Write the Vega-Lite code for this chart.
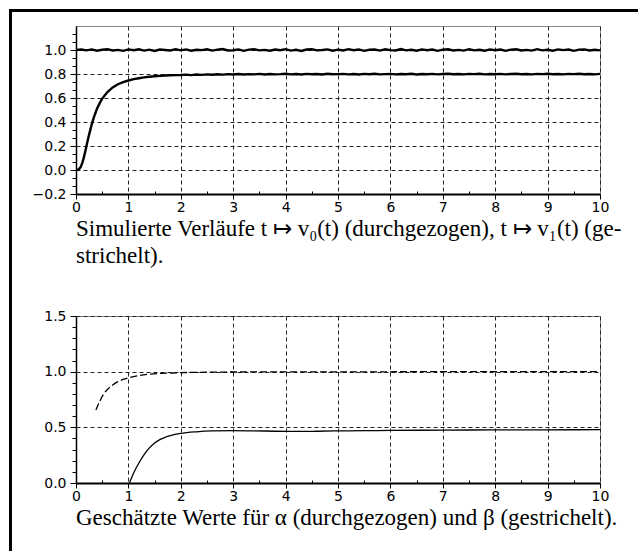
{
  "$schema": "https://vega.github.io/schema/vega-lite/v6.json",
  "padding": {"left": 9, "top": 9, "right": 0, "bottom": 0},
  "background": "white",
  "bounds": "flush",
  "spacing": 0,
  "config": {
    "axis": {"labelFont": "DejaVu Sans", "labelFontSize": 14, "labelColor": "black", "tickColor": "black", "domainColor": "black", "gridColor": "#222", "gridDash": [4, 3], "gridWidth": 1, "title": null, "labelFlush": false, "labelOverlap": false},
    "title": {"font": "Liberation Serif", "fontSize": 23, "fontWeight": "normal", "color": "black", "orient": "bottom", "anchor": "start", "frame": "group", "align": "left", "lineHeight": 27}
  },
  "vconcat": [
    {"width": 628, "height": 1, "data": {"values": [{}]}, "mark": {"type": "point", "size": 0, "opacity": 0}, "view": {"stroke": "black", "strokeWidth": 2, "fill": "black"}},
    {
      "bounds": "flush",
      "spacing": 65,
      "hconcat": [
        {"width": 1, "height": 539, "data": {"values": [{}]}, "mark": {"type": "point", "size": 0, "opacity": 0}, "view": {"stroke": "black", "strokeWidth": 2, "fill": "black"}},
        {
          "bounds": "flush",
          "spacing": 305,
          "vconcat": [
            {
              "bounds": "flush",
              "spacing": 14,
              "vconcat": [
                {"width": 524, "height": 1, "data": {"values": [{}]}, "mark": {"type": "point", "size": 0, "opacity": 0}, "view": {"stroke": null}},
                {
                  "width": 524, "height": 168,
                  "view": {"stroke": "#888", "strokeWidth": 1},
                  "title": {"text": ["Simulierte Verläufe t ↦ v₀(t) (durchgezogen), t ↦ v₁(t) (ge-", "strichelt)."], "offset": 4},
                  "resolve": {"axis": {"x": "independent", "y": "independent"}},
                  "layer": [
                    {
                      "data": {"values": [
                        {"t":0,"v":1.000},{"t":0.1,"v":1.004},{"t":0.2,"v":0.997},{"t":0.3,"v":1.005},{"t":0.4,"v":0.994},{"t":0.5,"v":1.002},{"t":0.6,"v":1.007},{"t":0.7,"v":0.996},{"t":0.8,"v":1.001},{"t":0.9,"v":0.993},
                        {"t":1.0,"v":1.005},{"t":1.1,"v":0.998},{"t":1.2,"v":1.006},{"t":1.3,"v":0.995},{"t":1.4,"v":1.003},{"t":1.5,"v":0.992},{"t":1.6,"v":1.004},{"t":1.7,"v":1.000},{"t":1.8,"v":0.996},{"t":1.9,"v":1.007},
                        {"t":2.0,"v":0.997},{"t":2.1,"v":1.005},{"t":2.2,"v":0.994},{"t":2.3,"v":1.002},{"t":2.4,"v":0.999},{"t":2.5,"v":1.006},{"t":2.6,"v":0.995},{"t":2.7,"v":1.003},{"t":2.8,"v":1.008},{"t":2.9,"v":0.996},
                        {"t":3.0,"v":0.998},{"t":3.1,"v":1.005},{"t":3.2,"v":0.993},{"t":3.3,"v":1.003},{"t":3.4,"v":1.006},{"t":3.5,"v":0.997},{"t":3.6,"v":1.001},{"t":3.7,"v":0.994},{"t":3.8,"v":1.004},{"t":3.9,"v":0.998},
                        {"t":4.0,"v":1.007},{"t":4.1,"v":0.995},{"t":4.2,"v":1.002},{"t":4.3,"v":0.992},{"t":4.4,"v":1.004},{"t":4.5,"v":1.006},{"t":4.6,"v":0.997},{"t":4.7,"v":1.000},{"t":4.8,"v":1.005},{"t":4.9,"v":0.994},
                        {"t":5.0,"v":1.003},{"t":5.1,"v":0.996},{"t":5.2,"v":1.007},{"t":5.3,"v":0.998},{"t":5.4,"v":1.005},{"t":5.5,"v":0.993},{"t":5.6,"v":1.002},{"t":5.7,"v":1.004},{"t":5.8,"v":0.995},{"t":5.9,"v":1.006},
                        {"t":6.0,"v":0.999},{"t":6.1,"v":0.996},{"t":6.2,"v":1.008},{"t":6.3,"v":0.997},{"t":6.4,"v":1.002},{"t":6.5,"v":0.994},{"t":6.6,"v":1.005},{"t":6.7,"v":0.998},{"t":6.8,"v":1.004},{"t":6.9,"v":0.993},
                        {"t":7.0,"v":1.003},{"t":7.1,"v":1.006},{"t":7.2,"v":0.996},{"t":7.3,"v":1.001},{"t":7.4,"v":0.995},{"t":7.5,"v":1.007},{"t":7.6,"v":0.997},{"t":7.7,"v":1.002},{"t":7.8,"v":0.994},{"t":7.9,"v":1.005},
                        {"t":8.0,"v":0.998},{"t":8.1,"v":1.004},{"t":8.2,"v":0.993},{"t":8.3,"v":1.003},{"t":8.4,"v":1.006},{"t":8.5,"v":0.996},{"t":8.6,"v":1.001},{"t":8.7,"v":0.995},{"t":8.8,"v":1.007},{"t":8.9,"v":0.997},
                        {"t":9.0,"v":1.002},{"t":9.1,"v":0.994},{"t":9.2,"v":1.005},{"t":9.3,"v":0.999},{"t":9.4,"v":1.004},{"t":9.5,"v":0.993},{"t":9.6,"v":1.003},{"t":9.7,"v":1.005},{"t":9.8,"v":0.996},{"t":9.9,"v":1.002},{"t":10.0,"v":0.997}
                      ]},
                      "mark": {"type": "line", "color": "black", "strokeWidth": 2.4, "clip": true},
                      "encoding": {
                        "x": {"field": "t", "type": "quantitative", "scale": {"domain": [0, 10], "nice": false, "zero": false},
                              "axis": {"orient": "bottom", "values": [0,1,2,3,4,5,6,7,8,9,10], "format": "d", "tickSize": 5, "tickWidth": 1, "domainWidth": 2, "grid": true, "labelPadding": 1}},
                        "y": {"field": "v", "type": "quantitative", "scale": {"domain": [-0.2, 1.2], "nice": false, "zero": false},
                              "axis": {"orient": "left", "values": [-0.2,0,0.2,0.4,0.6,0.8,1.0], "format": ".1f", "tickSize": 6, "tickWidth": 1, "domainWidth": 1.5, "grid": true, "labelPadding": 4}}
                      }
                    },
                    {
                      "data": {"values": [
                        {"t":0,"v":0},{"t":0.03,"v":0.001},{"t":0.06,"v":0.008},{"t":0.09,"v":0.025},{"t":0.12,"v":0.06},{"t":0.15,"v":0.105},{"t":0.18,"v":0.16},{"t":0.21,"v":0.22},{"t":0.25,"v":0.295},{"t":0.3,"v":0.38},
                        {"t":0.35,"v":0.45},{"t":0.4,"v":0.51},{"t":0.45,"v":0.555},{"t":0.5,"v":0.595},{"t":0.6,"v":0.65},{"t":0.7,"v":0.688},{"t":0.8,"v":0.715},{"t":0.9,"v":0.733},{"t":1.0,"v":0.746},{"t":1.1,"v":0.757},
                        {"t":1.2,"v":0.765},{"t":1.3,"v":0.772},{"t":1.4,"v":0.777},{"t":1.5,"v":0.781},{"t":1.6,"v":0.784},{"t":1.7,"v":0.787},{"t":1.8,"v":0.789},{"t":1.9,"v":0.791},{"t":2.0,"v":0.792},
                        {"t":2.1,"v":0.795},{"t":2.2,"v":0.791},{"t":2.3,"v":0.796},{"t":2.4,"v":0.793},{"t":2.5,"v":0.797},{"t":2.6,"v":0.794},{"t":2.7,"v":0.798},{"t":2.8,"v":0.795},{"t":2.9,"v":0.799},{"t":3.0,"v":0.796},
                        {"t":3.1,"v":0.800},{"t":3.2,"v":0.796},{"t":3.3,"v":0.799},{"t":3.4,"v":0.797},{"t":3.5,"v":0.801},{"t":3.6,"v":0.796},{"t":3.7,"v":0.800},{"t":3.8,"v":0.797},{"t":3.9,"v":0.799},{"t":4.0,"v":0.802},
                        {"t":4.1,"v":0.797},{"t":4.2,"v":0.800},{"t":4.3,"v":0.796},{"t":4.4,"v":0.801},{"t":4.5,"v":0.798},{"t":4.6,"v":0.800},{"t":4.7,"v":0.796},{"t":4.8,"v":0.802},{"t":4.9,"v":0.798},{"t":5.0,"v":0.799},
                        {"t":5.1,"v":0.801},{"t":5.2,"v":0.797},{"t":5.3,"v":0.800},{"t":5.4,"v":0.796},{"t":5.5,"v":0.801},{"t":5.6,"v":0.798},{"t":5.7,"v":0.802},{"t":5.8,"v":0.797},{"t":5.9,"v":0.799},{"t":6.0,"v":0.801},
                        {"t":6.1,"v":0.797},{"t":6.2,"v":0.800},{"t":6.3,"v":0.798},{"t":6.4,"v":0.802},{"t":6.5,"v":0.796},{"t":6.6,"v":0.800},{"t":6.7,"v":0.798},{"t":6.8,"v":0.801},{"t":6.9,"v":0.797},{"t":7.0,"v":0.800},
                        {"t":7.1,"v":0.802},{"t":7.2,"v":0.798},{"t":7.3,"v":0.800},{"t":7.4,"v":0.797},{"t":7.5,"v":0.801},{"t":7.6,"v":0.799},{"t":7.7,"v":0.802},{"t":7.8,"v":0.797},{"t":7.9,"v":0.800},{"t":8.0,"v":0.798},
                        {"t":8.1,"v":0.801},{"t":8.2,"v":0.797},{"t":8.3,"v":0.800},{"t":8.4,"v":0.802},{"t":8.5,"v":0.798},{"t":8.6,"v":0.800},{"t":8.7,"v":0.797},{"t":8.8,"v":0.801},{"t":8.9,"v":0.799},{"t":9.0,"v":0.802},
                        {"t":9.1,"v":0.798},{"t":9.2,"v":0.800},{"t":9.3,"v":0.797},{"t":9.4,"v":0.801},{"t":9.5,"v":0.799},{"t":9.6,"v":0.802},{"t":9.7,"v":0.798},{"t":9.8,"v":0.800},{"t":9.9,"v":0.797},{"t":10.0,"v":0.801}
                      ]},
                      "mark": {"type": "line", "color": "black", "strokeWidth": 2.4, "clip": true},
                      "encoding": {
                        "x": {"field": "t", "type": "quantitative", "scale": {"domain": [0, 10], "nice": false, "zero": false},
                              "axis": {"orient": "bottom", "values": [0.5,1.5,2.5,3.5,4.5,5.5,6.5,7.5,8.5,9.5], "labels": false, "grid": false, "domain": false, "tickSize": -3, "tickWidth": 1}},
                        "y": {"field": "v", "type": "quantitative", "scale": {"domain": [-0.2, 1.2], "nice": false, "zero": false},
                              "axis": {"orient": "left", "values": [-0.1333,-0.0667,0.0667,0.1333,0.2667,0.3333,0.4667,0.5333,0.6667,0.7333,0.8667,0.9333,1.0667,1.1333], "labels": false, "grid": false, "domain": false, "tickSize": 4, "tickWidth": 1}}
                      }
                    }
                  ]
                }
              ]
            },
            {
              "width": 524, "height": 167,
              "view": {"stroke": "#888", "strokeWidth": 1},
              "title": {"text": "Geschätzte Werte für α (durchgezogen) und β (gestrichelt).", "offset": 4},
              "resolve": {"axis": {"x": "independent", "y": "independent"}},
              "layer": [
                {
                  "data": {"values": [
                    {"t":1.02,"v":0},{"t":1.1,"v":0.09},{"t":1.2,"v":0.18},{"t":1.3,"v":0.255},{"t":1.4,"v":0.315},{"t":1.5,"v":0.36},{"t":1.6,"v":0.39},{"t":1.7,"v":0.41},{"t":1.8,"v":0.425},{"t":2.0,"v":0.445},
                    {"t":2.3,"v":0.46},{"t":2.6,"v":0.468},{"t":3.0,"v":0.471},{"t":3.4,"v":0.469},{"t":3.8,"v":0.465},{"t":4.2,"v":0.463},{"t":4.6,"v":0.465},{"t":5.0,"v":0.468},{"t":5.5,"v":0.47},{"t":6.0,"v":0.472},
                    {"t":7.0,"v":0.475},{"t":8.0,"v":0.477},{"t":9.0,"v":0.478},{"t":10.0,"v":0.479}
                  ]},
                  "mark": {"type": "line", "color": "black", "strokeWidth": 1.3, "interpolate": "monotone"},
                  "encoding": {
                    "x": {"field": "t", "type": "quantitative", "scale": {"domain": [0, 10], "nice": false, "zero": false},
                          "axis": {"orient": "bottom", "values": [0,1,2,3,4,5,6,7,8,9,10], "format": "d", "tickSize": 5, "tickWidth": 1, "domainWidth": 2, "grid": true, "labelPadding": 1}},
                    "y": {"field": "v", "type": "quantitative", "scale": {"domain": [0, 1.5], "nice": false, "zero": false},
                          "axis": {"orient": "left", "values": [0,0.5,1.0,1.5], "format": ".1f", "tickSize": 6, "tickWidth": 1, "domainWidth": 1.5, "grid": true, "labelPadding": 4}}
                  }
                },
                {
                  "data": {"values": [
                    {"t":0.38,"v":0.655},{"t":0.42,"v":0.7},{"t":0.47,"v":0.75},{"t":0.53,"v":0.8},{"t":0.6,"v":0.84},{"t":0.7,"v":0.88},{"t":0.8,"v":0.91},{"t":0.9,"v":0.93},{"t":1.0,"v":0.945},{"t":1.2,"v":0.965},
                    {"t":1.4,"v":0.977},{"t":1.7,"v":0.986},{"t":2.0,"v":0.991},{"t":2.5,"v":0.995},{"t":3.0,"v":0.997},{"t":4.0,"v":0.998},{"t":5.0,"v":0.999},{"t":6.0,"v":0.999},{"t":7.0,"v":1.0},{"t":8.0,"v":1.0},{"t":9.0,"v":1.0},{"t":10.0,"v":1.0}
                  ]},
                  "mark": {"type": "line", "color": "black", "strokeWidth": 1.3, "strokeDash": [7, 3], "interpolate": "monotone"},
                  "encoding": {
                    "x": {"field": "t", "type": "quantitative", "scale": {"domain": [0, 10], "nice": false, "zero": false},
                          "axis": {"orient": "bottom", "values": [0.5,1.5,2.5,3.5,4.5,5.5,6.5,7.5,8.5,9.5], "labels": false, "grid": false, "domain": false, "tickSize": -3, "tickWidth": 1}},
                    "y": {"field": "v", "type": "quantitative", "scale": {"domain": [0, 1.5], "nice": false, "zero": false},
                          "axis": {"orient": "left", "values": [0.1,0.2,0.3,0.4,0.6,0.7,0.8,0.9,1.1,1.2,1.3,1.4], "labels": false, "grid": false, "domain": false, "tickSize": 4, "tickWidth": 1}}
                  }
                }
              ]
            }
          ]
        }
      ]
    }
  ]
}
